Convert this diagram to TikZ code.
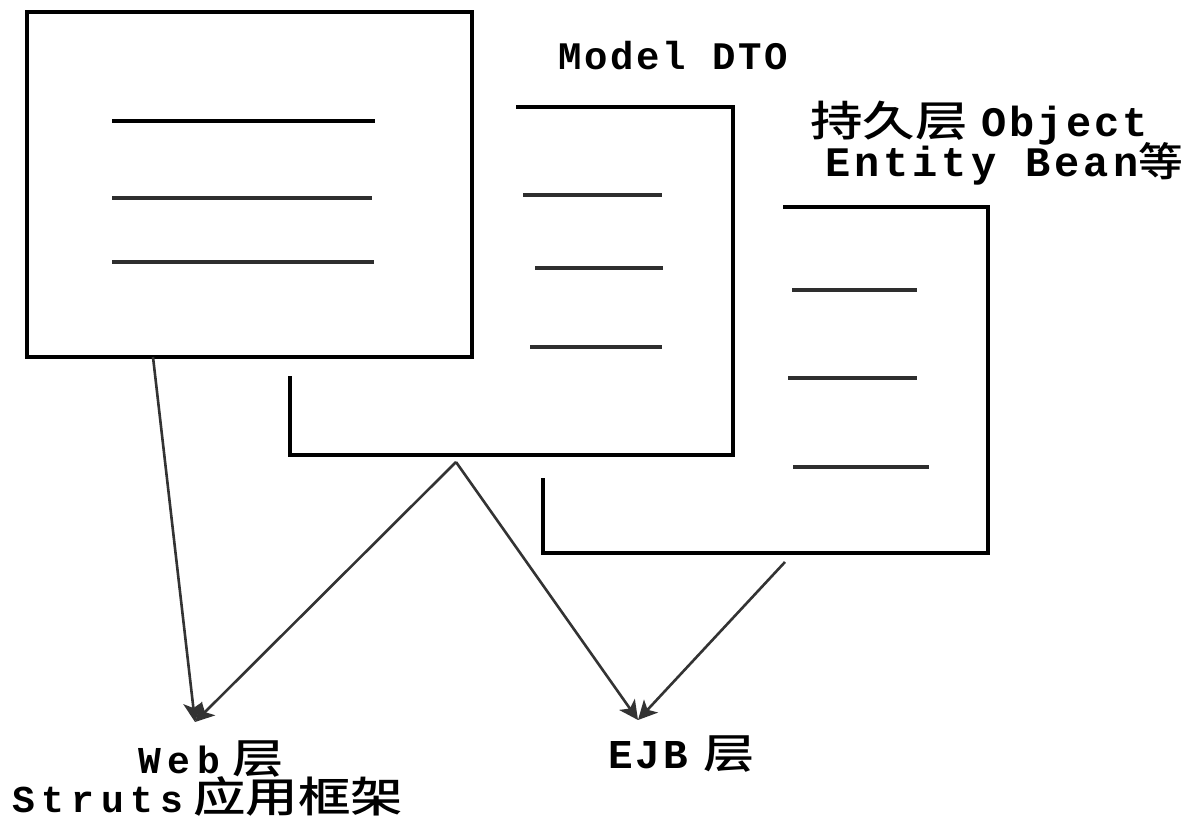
\documentclass[tikz,border=0pt]{standalone}
\usepackage{fontspec}
\setmainfont{Liberation Mono}
\newfontfamily\lat[LetterSpace=7]{Liberation Mono Bold}
\newfontfamily\late[LetterSpace=9.5]{Liberation Mono Bold}
\newfontfamily\latw[LetterSpace=18]{Liberation Mono Bold}
\newfontfamily\cjk[FakeStretch=1.25]{Noto Sans CJK SC Medium}
\newfontfamily\cjkn[FakeStretch=1.12]{Noto Sans CJK SC Medium}
\usetikzlibrary{arrows.meta}
\begin{document}
\begin{tikzpicture}[x=1pt,y=-1pt,
  boxline/.style={line width=4pt, line cap=rect},
  bar/.style={line width=3.5pt, draw=black!82},
  conn/.style={line width=2.6pt, draw=black!80, -{Stealth[length=19pt,width=19pt,inset=5pt]}},
  lbl/.style={inner sep=0pt, anchor=base west}]
\useasboundingbox (0,0) rectangle (1194,821);
\fill[white] (0,0) rectangle (1194,821);
% box 1
\node[draw, line width=4pt, minimum width=445pt, minimum height=345pt, anchor=north west, inner sep=0pt] (b1) at (25,10) {};
\draw[bar, draw=black] (112,121) -- (375,121);
\draw[bar] (112,198) -- (372,198);
\draw[bar] (112,262) -- (374,262);
% box 2 (partly hidden)
\draw[boxline] (518,107) -- (733,107) -- (733,455) -- (290,455) -- (290,378);
\draw[bar] (523,195) -- (662,195);
\draw[bar] (535,268) -- (663,268);
\draw[bar] (530,347) -- (662,347);
% box 3 (partly hidden)
\draw[boxline] (785,207) -- (988,207) -- (988,553) -- (543,553) -- (543,480);
\draw[bar] (792,290) -- (917,290);
\draw[bar] (788,378) -- (917,378);
\draw[bar] (793,467) -- (929,467);
% labels
\node[lbl] (mdto) at (558,70) {\fontsize{39}{39}\selectfont\lat Model DTO};
\node[lbl] (pers) at (810,137) {\fontsize{42}{42}\selectfont{\cjk 持久层}\hspace{14pt}{\lat Object}};
\node[lbl] (ent) at (825,177) {\fontsize{42}{42}\selectfont{\late Entity Bean}{\fontsize{40}{40}\selectfont\cjkn 等}};
\node[lbl] (web) at (138,773) {\fontsize{38}{38}\selectfont{\latw Web}\hspace{12pt}{\fontsize{41}{41}\selectfont\cjk 层}};
\node[lbl] (struts) at (12,812) {\fontsize{38}{38}\selectfont{\latw Struts}\hspace{10pt}{\fontsize{42}{42}\selectfont\cjk 应用框架}};
\node[lbl] (ejb) at (608,768) {\fontsize{41}{41}\selectfont{\lat EJB}\hspace{16pt}{\cjk 层}};
% connector ends
\coordinate (s1) at (153,357);
\coordinate (s2) at (456,462);
\coordinate (s3) at (785,562);
\coordinate (tw) at (195,722);
\coordinate (te) at (638,720);
\draw[conn] (s1) -- (tw);
\draw[conn] (s2) -- (tw);
\draw[conn] (s2) -- (te);
\draw[conn] (s3) -- (te);
\end{tikzpicture}
\end{document}
